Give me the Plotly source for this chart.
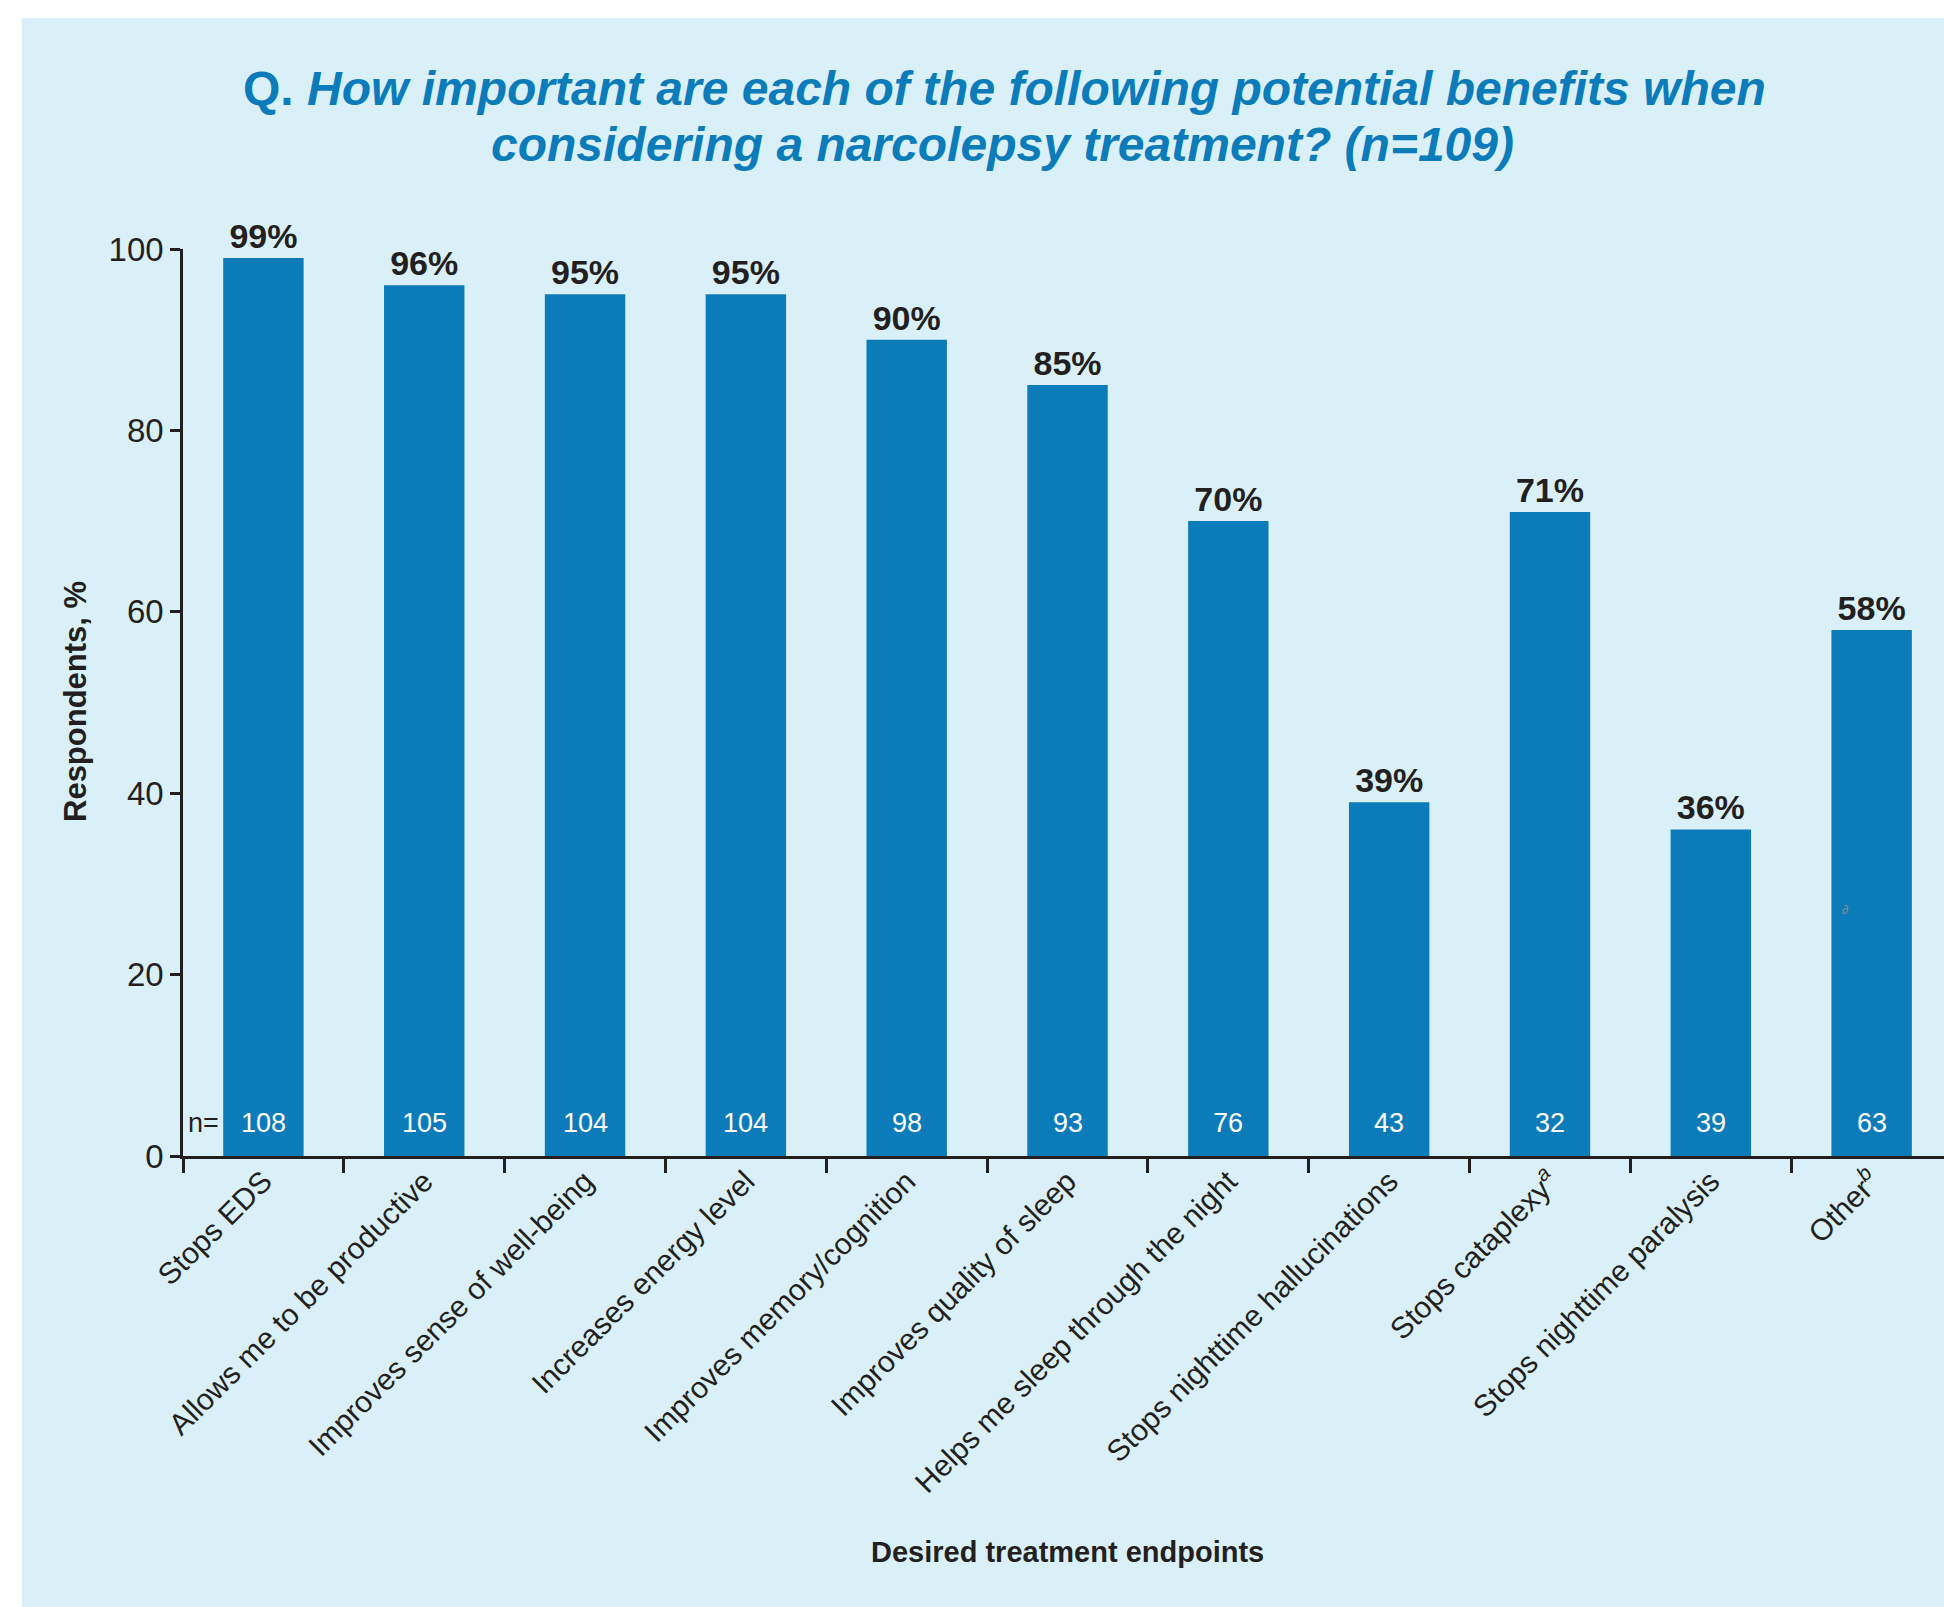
import plotly.graph_objects as go

categories = [
    "Stops EDS",
    "Allows me to be productive",
    "Improves sense of well-being",
    "Increases energy level",
    "Improves memory/cognition",
    "Improves quality of sleep",
    "Helps me sleep through the night",
    "Stops nighttime hallucinations",
    "Stops cataplexy<sup><i>a</i></sup>",
    "Stops nighttime paralysis",
    "Other<sup><i>b</i></sup>",
]
percent = [99, 96, 95, 95, 90, 85, 70, 39, 71, 36, 58]
n_values = [108, 105, 104, 104, 98, 93, 76, 43, 32, 39, 63]

title_line1 = "Q. <i>How important are each of the following potential benefits when</i>"
title_line2 = "<i>considering a narcolepsy treatment? (n=109)</i>"
x_title = "Desired treatment endpoints"
y_title = "Respondents, %"

W, H = 1944, 1607
L, R, T, B = 183, 0, 249, 451
PW, PH = W - L - R, H - T - B

def px(x):
    return (x - L) / PW

def py(y):
    return (H - B - y) / PH

BAR = "#0B7BBA"
BG = "#DAF0F8"
INK = "#231F20"
FONT = "Liberation Sans, Arial, sans-serif"

fig = go.Figure()
fig.add_trace(go.Bar(
    x=categories,
    y=percent,
    width=0.5,
    marker=dict(color=BAR, line=dict(width=0)),
    text=[f"{v}%" for v in percent],
    textposition="outside",
    constraintext="none",
    cliponaxis=False,
    textfont=dict(family=FONT, size=34, color=INK, weight="bold"),
    hoverinfo="skip",
))

annotations = []
for c, n in zip(categories, n_values):
    annotations.append(dict(
        x=c, y=0, xref="x", yref="y", text=str(n), showarrow=False,
        yanchor="middle", yshift=33,
        font=dict(family=FONT, size=27, color="white"),
    ))
annotations.append(dict(
    x=-0.5, y=0, xref="x", yref="y", text="n=", showarrow=False,
    xanchor="left", yanchor="middle", yshift=33, xshift=3,
    font=dict(family=FONT, size=27, color=INK),
))
annotations.append(dict(
    x=categories[-1], y=27.2, xref="x", yref="y", text="∂", showarrow=False,
    xshift=-27, font=dict(family=FONT, size=13, color="#8A8A8A"),
))
annotations.append(dict(
    x=px(1004), y=py(88), xref="paper", yref="paper", text=title_line1,
    showarrow=False, xanchor="center", yanchor="middle",
    font=dict(family=FONT, size=48, color=BAR, weight="bold"),
))
annotations.append(dict(
    x=px(1002), y=py(144), xref="paper", yref="paper", text=title_line2,
    showarrow=False, xanchor="center", yanchor="middle",
    font=dict(family=FONT, size=48, color=BAR, weight="bold"),
))
annotations.append(dict(
    x=px(1067), y=py(1552), xref="paper", yref="paper", text=x_title,
    showarrow=False, xanchor="center", yanchor="middle",
    font=dict(family=FONT, size=29, color=INK, weight="bold"),
))
annotations.append(dict(
    x=px(75), y=py(702), xref="paper", yref="paper", text=y_title,
    showarrow=False, xanchor="center", yanchor="middle", textangle=-90,
    font=dict(family=FONT, size=31, color=INK, weight="bold"),
))

shapes = [
    dict(type="rect", xref="paper", yref="paper",
         x0=px(-5), x1=px(22), y0=py(H + 5), y1=py(-5),
         fillcolor="white", line=dict(width=0), layer="below"),
    dict(type="rect", xref="paper", yref="paper",
         x0=px(-5), x1=px(W + 5), y0=py(18), y1=py(-5),
         fillcolor="white", line=dict(width=0), layer="below"),
]

fig.update_layout(
    width=W, height=H,
    margin=dict(l=L, r=R, t=T, b=B, pad=0),
    paper_bgcolor=BG,
    plot_bgcolor="rgba(0,0,0,0)",
    showlegend=False,
    annotations=annotations,
    shapes=shapes,
    font=dict(family=FONT, color=INK),
    xaxis=dict(
        type="category",
        range=[-0.5, 10.45],
        tickson="boundaries",
        ticks="outside", ticklen=14, tickwidth=2.5, tickcolor=INK,
        showline=True, linecolor=INK, linewidth=2.5,
        showgrid=False, zeroline=False,
        tickangle=-45,
        ticklabelstandoff=-7,
        tickfont=dict(family=FONT, size=30, color=INK),
        automargin=False,
    ),
    yaxis=dict(
        range=[0, 100],
        tickvals=[0, 20, 40, 60, 80, 100],
        ticks="outside", ticklen=10, tickwidth=2.5, tickcolor=INK,
        showline=True, linecolor=INK, linewidth=2.5,
        showgrid=False, zeroline=False,
        tickfont=dict(family=FONT, size=33, color=INK),
        automargin=False,
    ),
)

fig.write_html("out.html")
